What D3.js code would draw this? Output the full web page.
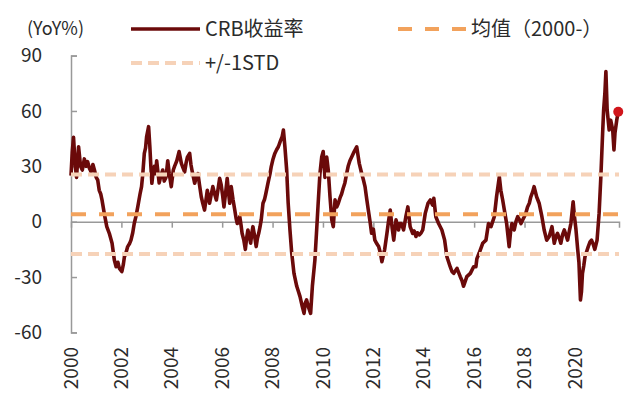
<!DOCTYPE html>
<html>
<head>
<meta charset="utf-8">
<script src="https://cdn.jsdelivr.net/npm/d3@7"></script>
<style>
  body { margin: 0; background: #fff; }
  text { font-family: "Noto Sans CJK SC", "Noto Sans", sans-serif; fill: #2b2b2b; }
</style>
</head>
<body>
<div id="chart"></div>
<script>
// CRB index YoY % (decimal year, value)
var dates = [
  2000.00, 2000.05, 2000.10, 2000.17, 2000.22, 2000.30, 2000.38, 2000.45, 2000.53, 2000.60, 2000.66, 2000.73, 2000.80, 2000.87, 2000.93,
  2001.00, 2001.06, 2001.12, 2001.18, 2001.23, 2001.32, 2001.42, 2001.52, 2001.63, 2001.72, 2001.79, 2001.86, 2001.92,
  2002.02, 2002.08, 2002.12, 2002.18, 2002.25, 2002.32, 2002.38, 2002.45, 2002.51, 2002.58, 2002.65, 2002.74, 2002.80, 2002.85, 2002.91, 2002.96,
  2003.00, 2003.08, 2003.13, 2003.17, 2003.21, 2003.26, 2003.31, 2003.36, 2003.40, 2003.45, 2003.50, 2003.57, 2003.64, 2003.70, 2003.77, 2003.84, 2003.90, 2003.98,
  2004.06, 2004.11, 2004.20, 2004.29, 2004.38, 2004.45, 2004.51, 2004.57, 2004.62, 2004.71, 2004.76, 2004.80, 2004.86, 2004.91, 2004.97,
  2005.04, 2005.10, 2005.17, 2005.23, 2005.30, 2005.36, 2005.41, 2005.46, 2005.50, 2005.57, 2005.63, 2005.70, 2005.77, 2005.84, 2005.90, 2005.96,
  2006.02, 2006.07, 2006.14, 2006.20, 2006.25, 2006.30, 2006.36, 2006.43, 2006.50, 2006.55, 2006.60, 2006.70, 2006.75, 2006.79, 2006.86, 2006.92, 2006.97,
  2007.02, 2007.08, 2007.13, 2007.18, 2007.22, 2007.29, 2007.35, 2007.40, 2007.45, 2007.50, 2007.55, 2007.62, 2007.68, 2007.73, 2007.82, 2007.90, 2007.95,
  2008.02, 2008.09, 2008.16, 2008.23, 2008.32, 2008.38, 2008.43, 2008.49, 2008.56, 2008.62, 2008.69, 2008.76, 2008.85, 2008.96,
  2009.03, 2009.09, 2009.18, 2009.25, 2009.30, 2009.35, 2009.42, 2009.51, 2009.58, 2009.68, 2009.75, 2009.81, 2009.88, 2009.95,
  2010.01, 2010.08, 2010.15, 2010.21, 2010.28, 2010.35, 2010.41, 2010.48, 2010.55, 2010.61, 2010.68, 2010.74, 2010.80, 2010.87, 2010.94,
  2011.00, 2011.07, 2011.14, 2011.24, 2011.34, 2011.44, 2011.54, 2011.60, 2011.67, 2011.74, 2011.80, 2011.87, 2011.93,
  2012.00, 2012.06, 2012.14, 2012.21, 2012.28, 2012.34, 2012.45, 2012.54, 2012.60, 2012.67, 2012.74, 2012.81, 2012.90,
  2013.00, 2013.05, 2013.11, 2013.20, 2013.29, 2013.37, 2013.46, 2013.56, 2013.62, 2013.69, 2013.75, 2013.82, 2013.90, 2013.96,
  2014.06, 2014.17, 2014.26, 2014.35, 2014.40, 2014.48, 2014.59, 2014.72, 2014.83, 2014.92,
  2015.05, 2015.12, 2015.19, 2015.32, 2015.45, 2015.52, 2015.58, 2015.71, 2015.85, 2015.98,
  2016.07, 2016.11, 2016.20, 2016.34, 2016.47, 2016.57, 2016.67, 2016.80, 2016.89,
  2017.00, 2017.06, 2017.13, 2017.20, 2017.29, 2017.39, 2017.45, 2017.50, 2017.59, 2017.66, 2017.73, 2017.80, 2017.86, 2017.93, 2017.99,
  2018.06, 2018.12, 2018.19, 2018.25, 2018.32, 2018.38, 2018.48, 2018.58, 2018.69, 2018.78, 2018.88, 2018.98,
  2019.09, 2019.18, 2019.25, 2019.31, 2019.38, 2019.44, 2019.51, 2019.58, 2019.64, 2019.71, 2019.78, 2019.84, 2019.93, 2019.98,
  2020.04, 2020.11, 2020.16, 2020.22, 2020.26, 2020.30, 2020.35, 2020.40, 2020.47, 2020.53, 2020.60, 2020.66, 2020.72, 2020.79, 2020.88, 2020.96,
  2021.03, 2021.10, 2021.14, 2021.19, 2021.23, 2021.28, 2021.32, 2021.36, 2021.42, 2021.50, 2021.55, 2021.59, 2021.66, 2021.72
]
var crb = [
  25, 38, 45.7, 30, 24, 40.6, 30, 28, 34, 30, 32.5, 29, 27, 31, 28,
  24, 22.6, 17, 15, 11.8, 4.5, -2.7, -6.3, -11.7, -20.8, -24.4, -22, -25.3,
  -27, -23, -19, -17, -13.5, -12, -10, -6, -1, 3, 8, 15, 19, 26, 37, 40,
  46, 51.5, 40.6, 30, 20.8, 27, 30, 26, 33, 27, 21, 25, 28, 22, 24, 33, 26, 19,
  28, 30, 33, 38, 31.6, 29, 27, 32, 35, 37, 31, 28, 24, 20.8, 24,
  26, 20, 13.5, 10, 6.3, 12, 17, 13, 10, 15, 19, 15, 11.8, 18, 23.5, 20,
  14, 8, 16, 23.5, 16, 10, 19, 12, 6.3, 2, -1, 2.7, -2, -6.3, -10, -15, -9,
  -4.5, -8, -11.7, -6, -2.7, -8, -13.5, -9, -6.3, -3, 1, 10, 12, 15, 21, 26, 30,
  34, 37, 39, 40.6, 44, 46, 49.7, 40.6, 28, 10, -4.5, -17, -28, -35,
  -38, -40.6, -46, -49.7, -44, -42.4, -46, -49.7, -35, -20.8, -4.5, 10, 26, 35,
  38, 24, 35, 28, 13.5, 1, -2.7, 11.8, 8, 10, 13, 15, 18, 21, 26,
  30, 33, 35, 38, 40.6, 31.6, 26, 23, 19, 12, 6.3, 0, -6.3,
  -4, -10, -12, -13.5, -17, -21.7, -15, -6.3, 0, 6.3, -2.7, -10, 1,
  -4.5, -1, -1, -4.5, 2.7, 8, -2.7, -6.3, -5, -8, -6, -7.2, -6, -4.5,
  4.5, 10, 11.8, 9, 12.7, 2.7, -1, -4.5, -10, -19,
  -24.4, -27, -28, -25.3, -29.8, -32, -35, -29.8, -28, -24.4,
  -24.4, -20, -17, -11.7, -10, -1, -2.7, 2.7, 13.5,
  24.4, 17, 12, 6.3, -1, -13.5, -5, -1, -4.5, 0, 2.7, 1, -1, 1, 2.7,
  5, 8, 10, 13.5, 16, 19, 13.5, 10, 2.7, -4.5, -10, -8,
  -2.7, -11.7, -8, -6.3, -9, -11.7, -7, -4.5, -7, -10, -5, -1, 10.8, 3,
  -4, -15, -22, -42.4, -38, -28, -24, -19, -16, -13.5, -11, -10, -12, -15, -10, 4.5,
  24.4, 48, 60.5, 69.6, 81.3, 60.5, 55, 49.7, 55, 49.7, 38.9, 48, 55, 59.6
]
var meanValue = 4
var stdValue = 21.5
var yTicks = [90, 60, 30, 0, -30, -60]
var xTicks = [2000, 2002, 2004, 2006, 2008, 2010, 2012, 2014, 2016, 2018, 2020]

var width = 640
var height = 398

var lineColor = "#6b0a0a"
var meanColor = "#f2a25c"
var stdColor = "#f6d2b8"

var svg = d3.select("#chart")
  .append("svg")
    .attr("width", width)
    .attr("height", height)

var x = d3.scaleLinear().domain([2000, 2021.75]).range([71, 619])
var y = d3.scaleLinear().domain([-60, 90]).range([332.4, 55.6])

var data = dates.map(function(d, i) { return [d, crb[i]] })

// y axis: line on the left, ticks pointing into the plot
var yAxis = svg.append("g")
  .attr("transform", "translate(" + x(2000) + ",0)")
  .call(d3.axisRight(y).tickValues(yTicks).tickSize(6).tickFormat(""))
yAxis.select(".domain").attr("stroke", "#999").attr("stroke-width", 1.5)
yAxis.selectAll(".tick line").attr("stroke", "#999").attr("stroke-width", 1.5)

svg.selectAll(".ylab")
  .data(yTicks)
  .join("text")
    .attr("class", "ylab")
    .attr("x", 42)
    .attr("y", function(d) { return y(d) })
    .attr("dy", "0.35em")
    .attr("text-anchor", "end")
    .style("font-size", "19px")
    .text(function(d) { return d })

// x axis sits on the zero line
var xAxis = svg.append("g")
  .attr("transform", "translate(0," + y(0) + ")")
  .call(d3.axisBottom(x).tickValues(xTicks.slice(1)).tickSizeOuter(0).tickSize(6).tickFormat(""))
xAxis.select(".domain").attr("stroke", "#999").attr("stroke-width", 1.5)
xAxis.selectAll(".tick line").attr("stroke", "#999").attr("stroke-width", 1.5)

svg.selectAll(".xlab")
  .data(xTicks)
  .join("text")
    .attr("class", "xlab")
    .attr("transform", function(d) { return "translate(" + x(d) + ",347) rotate(-90)" })
    .attr("dy", "0.35em")
    .attr("text-anchor", "end")
    .style("font-size", "19px")
    .text(function(d) { return d })

// the series
var line = d3.line()
  .x(function(d) { return x(d[0]) })
  .y(function(d) { return y(d[1]) })

svg.append("path")
  .datum(data)
  .attr("d", line)
  .attr("fill", "none")
  .attr("stroke", lineColor)
  .attr("stroke-width", 3.6)
  .attr("stroke-linejoin", "round")

// mean and +/- 1 std
var x0 = x(2000), x1 = x(2021.75)
svg.selectAll(".std")
  .data([meanValue + stdValue, meanValue - stdValue])
  .join("line")
    .attr("x1", x0).attr("x2", x1)
    .attr("y1", function(d) { return y(d) })
    .attr("y2", function(d) { return y(d) })
    .attr("stroke", stdColor)
    .attr("stroke-width", 4)
    .attr("stroke-dasharray", "11,6")
svg.append("line")
  .attr("x1", x0).attr("x2", x1)
  .attr("y1", y(meanValue)).attr("y2", y(meanValue))
  .attr("stroke", meanColor)
  .attr("stroke-width", 4)
  .attr("stroke-dasharray", "15,13")

// last point marker
var last = data[data.length - 1]
svg.append("circle")
  .attr("cx", x(last[0]))
  .attr("cy", y(last[1]))
  .attr("r", 5)
  .attr("fill", "#d0151b")

// unit + legend
svg.append("text").attr("x", 27).attr("y", 29).attr("dy", "0.35em").style("font-size", "18px").text("(YoY%)")

svg.append("line").attr("x1", 131).attr("x2", 200).attr("y1", 29).attr("y2", 29)
  .attr("stroke", lineColor).attr("stroke-width", 3.4)
svg.append("text").attr("x", 205).attr("y", 29).attr("dy", "0.35em").style("font-size", "20px").text("CRB收益率")

svg.append("line").attr("x1", 398).attr("x2", 466).attr("y1", 29).attr("y2", 29)
  .attr("stroke", meanColor).attr("stroke-width", 4).attr("stroke-dasharray", "14,13")
svg.append("text").attr("x", 471).attr("y", 29).attr("dy", "0.35em").style("font-size", "20px").text("均值（2000-）")

svg.append("line").attr("x1", 131).attr("x2", 200).attr("y1", 63).attr("y2", 63)
  .attr("stroke", stdColor).attr("stroke-width", 4).attr("stroke-dasharray", "11,6")
svg.append("text").attr("x", 205).attr("y", 63).attr("dy", "0.35em").style("font-size", "20px").text("+/-1STD")
</script>
</body>
</html>
